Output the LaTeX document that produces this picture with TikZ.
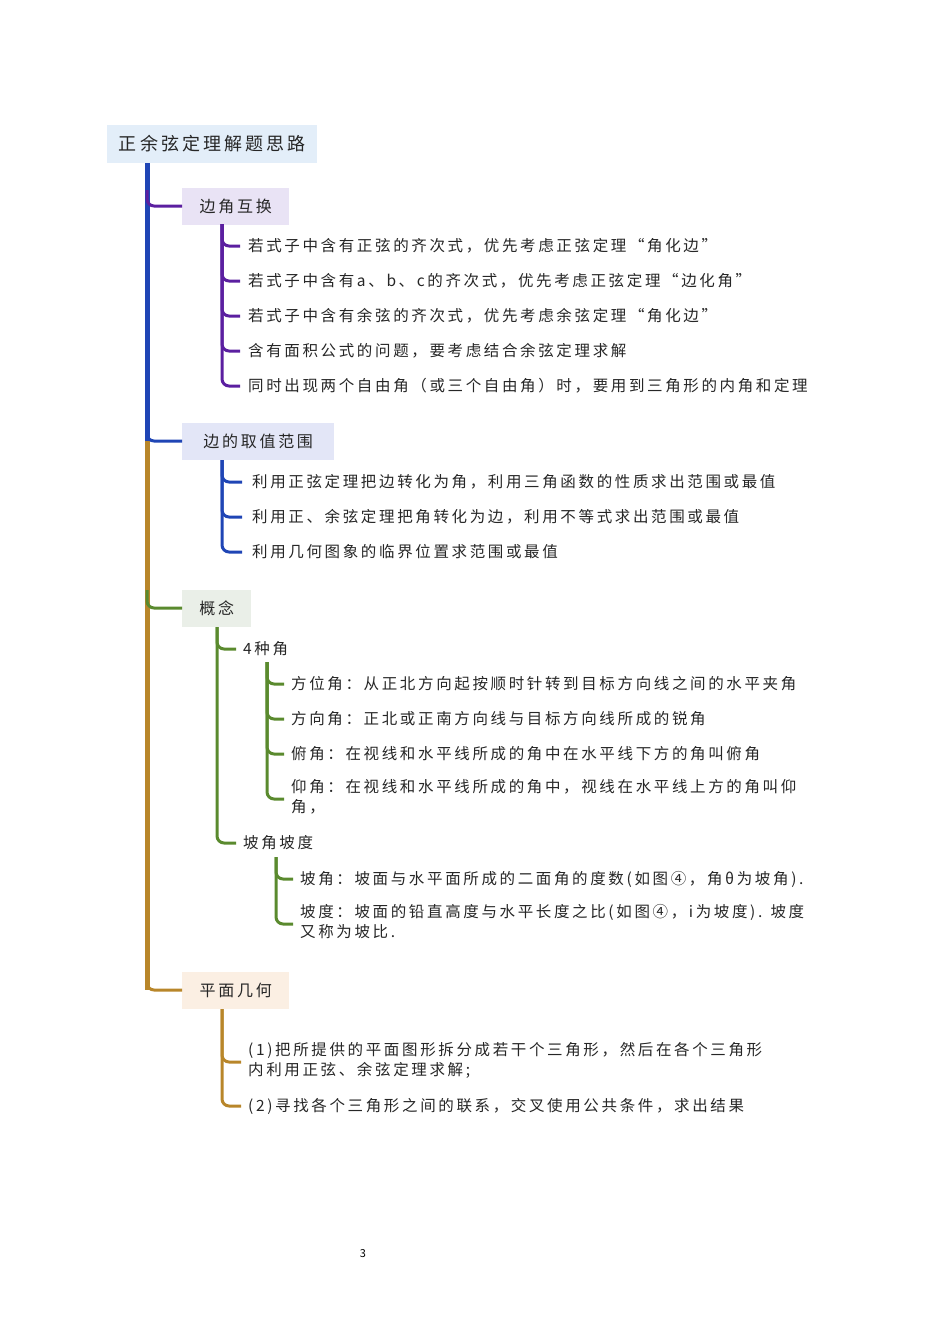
\documentclass[tikz,border=0pt]{standalone}
\usepackage{fontspec}
\setmainfont[LetterSpace=17]{Noto Sans CJK SC}
\begin{document}
\begin{tikzpicture}[x=1pt,y=-1pt,
  txt/.style={anchor=west,inner sep=0pt,font=\fontsize{15.5}{20}\selectfont,text=black!85},
  box/.style={anchor=west,inner xsep=8pt,minimum height=37pt,font=\fontsize{16}{20}\selectfont,text=black!85},
  br/.style={line width=3pt,rounded corners=7pt},
  tr/.style={line width=5pt}]
\useasboundingbox (0,0) rectangle (950,1344);
\definecolor{cpur}{HTML}{5B1FA0}\definecolor{cblu}{HTML}{1F45B5}
\definecolor{cgrn}{HTML}{5A8A2E}\definecolor{cgld}{HTML}{B8862A}
\node[box,fill={rgb,255:red,227;green,238;blue,249},minimum height=38pt,minimum width=210pt,font=\fontsize{18}{22}\selectfont,align=center] (title) at (107,144) {正余弦定理解题思路};
\node[box,fill={rgb,255:red,233;green,227;blue,245},minimum width=107pt] (b1) at (182,206) {边角互换};
\node[box,fill={rgb,255:red,227;green,230;blue,247},minimum width=152pt] (b2) at (182,441) {边的取值范围};
\node[box,fill={rgb,255:red,234;green,239;blue,232},minimum width=69pt] (b3) at (182,608) {概念};
\node[box,fill={rgb,255:red,251;green,239;blue,227},minimum width=107pt] (b4) at (182,990) {平面几何};
\coordinate (t0) at (147,163);
\coordinate (t1) at (147,441);
\draw[tr,cblu] (t0) -- (t1);
\draw[tr,cgld] (t1) -- (147,990);
\draw[br,cpur] (147,190) |- (b1.west);
\draw[br,cblu] (147,425) |- (b2.west);
\draw[br,cgrn] (147,590) |- (b3.west);
\draw[br,cgld] (147,970) |- (b4.west);
% branch 1
\foreach \n/\y/\t in {a1/246/若式子中含有正弦的齐次式，优先考虑正弦定理“角化边”,
 a2/281/若式子中含有a、b、c的齐次式，优先考虑正弦定理“边化角”,
 a3/316/若式子中含有余弦的齐次式，优先考虑余弦定理“角化边”,
 a4/351/含有面积公式的问题，要考虑结合余弦定理求解,
 a5/386/同时出现两个自由角（或三个自由角）时，要用到三角形的内角和定理}
 {\node[txt] (\n) at (248,\y) {\t};
  \draw[br,cpur] (222,224) |- ([xshift=-8pt]\n.west);}
% branch 2
\foreach \n/\y/\t in {c1/482/利用正弦定理把边转化为角，利用三角函数的性质求出范围或最值,
 c2/517/利用正、余弦定理把角转化为边，利用不等式求出范围或最值,
 c3/552/利用几何图象的临界位置求范围或最值}
 {\node[txt] (\n) at (252,\y) {\t};
  \draw[br,cblu] (222,460) |- ([xshift=-10pt]\n.west);}
% branch 3
\node[txt] (g1) at (243,649) {4种角};
\node[txt] (g2) at (243,843) {坡角坡度};
\foreach \n in {g1,g2}{\draw[br,cgrn] (217,627) |- ([xshift=-7pt]\n.west);}
\foreach \n/\y/\t in {h1/684/方位角：从正北方向起按顺时针转到目标方向线之间的水平夹角,
 h2/719/方向角：正北或正南方向线与目标方向线所成的锐角,
 h3/754/俯角：在视线和水平线所成的角中在水平线下方的角叫俯角}
 {\node[txt] (\n) at (291,\y) {\t};
  \draw[br,cgrn] (267,662) |- ([xshift=-7pt]\n.west);}
\node[txt,anchor=north west,align=left] (h4) at (291,779) {仰角：在视线和水平线所成的角中，视线在水平线上方的角叫仰\\角，};
\draw[br,cgrn] (267,662) |- (284,799);
\node[txt] (k1) at (300,879) {坡角：坡面与水平面所成的二面角的度数(如图④，角θ为坡角).};
\draw[br,cgrn] (276,857) |- ([xshift=-7pt]k1.west);
\node[txt,anchor=north west,align=left] (k2) at (300,904) {坡度：坡面的铅直高度与水平长度之比(如图④，i为坡度). 坡度\\又称为坡比.};
\draw[br,cgrn] (276,857) |- (293,924);
% branch 4
\node[txt,anchor=north west,align=left] (m1) at (248,1042) {(1)把所提供的平面图形拆分成若干个三角形，然后在各个三角形\\内利用正弦、余弦定理求解;};
\draw[br,cgld] (222,1009) |- (241,1062);
\node[txt] (m2) at (248,1106) {(2)寻找各个三角形之间的联系，交叉使用公共条件，求出结果};
\draw[br,cgld] (222,1009) |- ([xshift=-7pt]m2.west);
\node[font=\fontsize{11}{12}\selectfont] (pg) at (363,1254) {3};
\end{tikzpicture}
\end{document}
